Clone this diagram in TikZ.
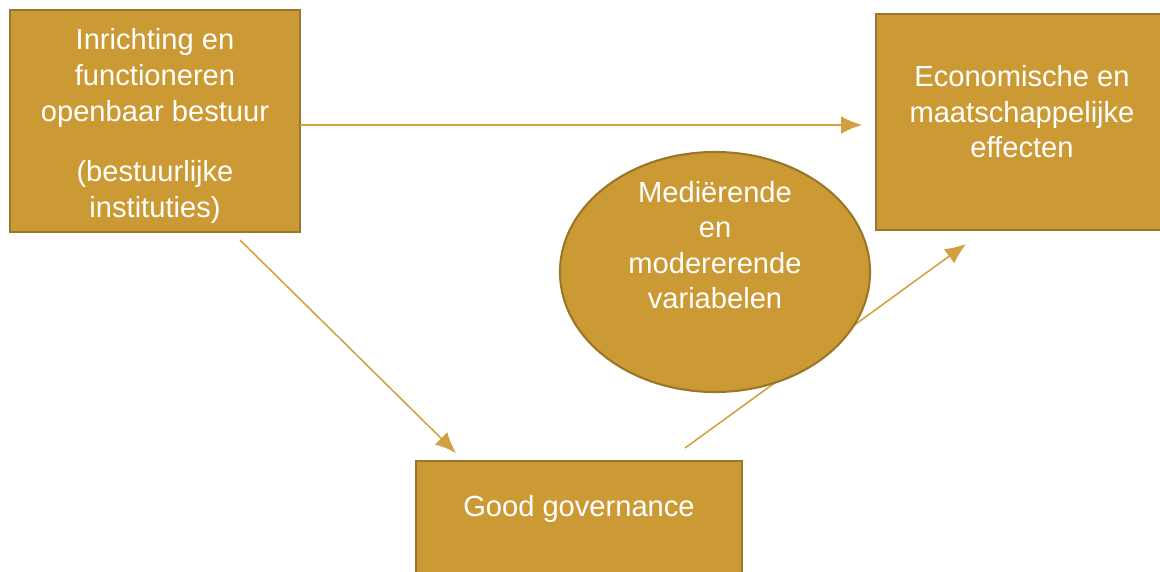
\documentclass[tikz,border=0pt]{standalone}
\usepackage{fontspec}
\setmainfont{Liberation Sans}
\usetikzlibrary{arrows.meta}
\definecolor{goldfill}{HTML}{CC9A34}
\definecolor{goldedge}{HTML}{9A762B}
\definecolor{goldline}{HTML}{D3A040}
\tikzset{
  goldbox/.style={draw=goldedge, fill=goldfill, line width=2pt},
  boxtext/.style={text=white, align=center, font=\fontsize{20.7}{25.3}\selectfont},
  goldarrow/.style={draw=goldline, line width=1.1pt, -{Latex[length=0.52cm, width=0.44cm]}}
}
\begin{document}
\begin{tikzpicture}[x=0.025cm, y=-0.025cm]
						\useasboundingbox (0,0) rectangle (1160,572);
						% boxes
						\draw[goldbox] (10,10) rectangle (300,232);
						\draw[goldbox] (876,14) rectangle (1170,230);
						\draw[goldbox] (416,461) rectangle (742,590);
						\node[boxtext] (inrichting) at (155,126) {Inrichting en\\functioneren\\openbaar bestuur\\[0.62cm](bestuurlijke\\instituties)};
						\node[boxtext] (effecten) at (1022,112) {Economische en\\maatschappelijke\\effecten};
						\node[boxtext] (governance) at (579,509) {Good governance};
						% arrows
						\coordinate (s1) at (300,125);
						\coordinate (e1) at (862,125);
						\coordinate (s2) at (240,240);
						\coordinate (e2) at (456,453);
						\coordinate (s3) at (685,448);
						\coordinate (e3) at (966,244);
						\draw[goldarrow] (s1) -- (e1);
						\draw[goldarrow] (s2) -- (e2);
						\draw[goldarrow] (s3) -- (e3);
						% ellipse on top
						\draw[goldbox, line width=1.5pt] (715,272) ellipse [x radius=155, y radius=120];
						\node[boxtext] (variabelen) at (715,245) {Mediërende\\en\\modererende\\variabelen};
					\end{tikzpicture}
\end{document}
